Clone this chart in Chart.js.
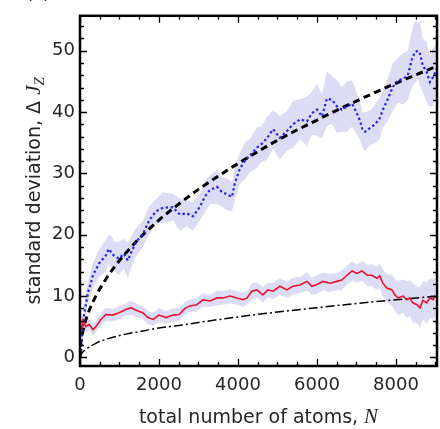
<!DOCTYPE html>
<html>
<head>
<meta charset="utf-8">
<script src="https://cdn.jsdelivr.net/npm/chart.js@4/dist/chart.umd.min.js"></script>
<style>
  html, body { margin: 0; padding: 0; background: #fff; }
  #wrap { width: 440px; height: 429px; position: relative; }
</style>
</head>
<body>
<div id="wrap"><canvas id="c"></canvas></div>
<script>
// Axis tick labels
const xTicks = [0, 2000, 4000, 6000, 8000];
const yTicks = [0, 10, 20, 30, 40, 50];

// Measured standard deviation, blue data (with uncertainty half-width)
const blueN = [0, 25, 60, 100, 200, 330, 480, 650, 730, 800, 860, 990, 1110, 1210, 1300,
  1420, 1590, 1750, 1920, 2100, 2350, 2530, 2700, 2860, 3040, 3160, 3290, 3470, 3590, 3750,
  3850, 3920, 4050, 4180, 4300, 4480, 4600, 4730, 4890, 5060, 5240, 5390, 5570, 5750, 5870,
  6000, 6130, 6250, 6380, 6510, 6630, 6760, 6890, 7010, 7090, 7160, 7220, 7340, 7470, 7590,
  7670, 7800, 7920, 8050, 8180, 8300, 8400, 8480, 8560, 8610, 8680, 8780, 8860, 8940, 9030];
const blueVal = [0.2, 0.6, 4.0, 6.9, 10.5, 13.4, 15.3, 16.6, 17.7, 17.0, 16.6, 16.1, 16.9, 15.8, 17.2,
  18.8, 20.1, 22.3, 23.8, 24.4, 24.5, 23.3, 23.5, 23.0, 24.6, 26.2, 27.3, 27.8, 27.0, 26.5,
  26.2, 28.4, 30.8, 32.1, 32.9, 34.2, 34.8, 35.7, 37.2, 35.8, 36.9, 38.0, 38.8, 38.5, 39.8,
  40.4, 39.3, 42.2, 42.0, 40.9, 40.4, 40.9, 41.4, 39.8, 38.6, 37.0, 36.8, 37.4, 38.0, 39.0,
  40.4, 42.2, 44.1, 45.2, 45.4, 46.0, 48.5, 49.8, 50.0, 49.5, 47.6, 46.5, 44.9, 45.7, 47.0];
const blueSpread = [0.6, 0.9, 1.4, 1.6, 1.8, 2.0, 2.2, 2.6, 2.4, 2.8, 2.3, 2.7, 2.4, 2.9, 2.5,
  2.3, 2.1, 2.4, 2.0, 2.5, 2.2, 2.6, 2.1, 2.4, 2.2, 2.6, 2.3, 2.8, 2.4, 2.6,
  2.3, 2.7, 2.5, 3.0, 2.7, 3.3, 2.9, 3.5, 3.1, 3.6, 3.2, 3.8, 3.3, 4.0, 3.5,
  4.2, 3.6, 4.5, 3.9, 4.3, 3.6, 4.1, 3.8, 3.4, 3.1, 2.9, 3.2, 2.8, 3.1, 3.4,
  3.0, 3.5, 3.9, 3.6, 4.2, 4.0, 4.6, 5.0, 4.6, 5.2, 4.4, 4.9, 4.1, 4.7, 4.3];

// Measured standard deviation, red data (with uncertainty half-width)
const redN = [0, 25, 75, 150, 230, 330, 400, 530, 650, 830, 990, 1160, 1290, 1420, 1590,
  1720, 1850, 2000, 2180, 2350, 2510, 2660, 2780, 2960, 3110, 3290, 3470, 3620, 3800, 3970,
  4130, 4230, 4350, 4480, 4630, 4760, 4890, 5060, 5240, 5390, 5570, 5750, 5870, 6000, 6150,
  6330, 6510, 6630, 6760, 6890, 7010, 7140, 7270, 7390, 7520, 7590, 7670, 7770, 7900, 7970,
  8050, 8180, 8280, 8350, 8430, 8530, 8610, 8680, 8780, 8860, 8940, 8990];
const redVal = [3.8, 3.9, 6.1, 5.0, 5.4, 4.5, 5.0, 6.2, 7.0, 6.9, 7.3, 7.8, 8.1, 7.7, 7.3,
  6.5, 6.2, 6.9, 6.5, 6.9, 7.0, 8.0, 8.4, 8.6, 9.4, 9.2, 9.7, 9.7, 10.0, 9.7,
  9.4, 9.7, 10.8, 11.0, 10.2, 11.0, 10.8, 11.6, 11.0, 11.6, 11.8, 12.4, 11.6, 11.9, 12.4,
  12.1, 12.4, 12.6, 13.4, 14.1, 13.7, 14.1, 13.4, 13.4, 12.9, 13.3, 12.1, 11.3, 11.0, 10.2,
  9.7, 10.0, 9.4, 9.7, 8.9, 8.6, 8.1, 9.3, 8.9, 9.7, 9.4, 9.9];
const redSpread = [0.5, 0.8, 1.0, 1.0, 0.9, 1.0, 0.9, 1.0, 1.1, 1.0, 1.1, 1.0, 1.2, 1.1, 1.0,
  1.1, 1.0, 1.1, 1.0, 1.1, 1.0, 1.1, 1.0, 1.1, 1.1, 1.0, 1.2, 1.1, 1.2, 1.1,
  1.2, 1.1, 1.3, 1.2, 1.3, 1.2, 1.3, 1.4, 1.3, 1.4, 1.3, 1.5, 1.4, 1.5, 1.4,
  1.5, 1.4, 1.6, 1.5, 1.6, 1.5, 1.6, 1.7, 1.8, 1.9, 2.0, 2.2, 2.3, 2.5, 2.6,
  2.8, 2.7, 3.0, 2.9, 3.2, 3.0, 3.3, 3.1, 3.4, 3.2, 3.3, 3.1];

// Reference curves (black dashed and dash-dotted)
const dashN = [0, 10, 50, 100, 200, 400, 700, 1000, 1500, 2000, 2500, 3000, 4000, 5000, 6000, 7000, 8000, 9040];
const dashVal = [0, 1.6, 3.5, 5.0, 7.1, 10.0, 13.2, 15.8, 19.4, 22.4, 25.0, 27.4, 31.6, 35.4, 38.7, 41.8, 44.7, 47.5];
const dotDashN = [0, 50, 150, 400, 730, 1160, 1590, 2000, 2500, 3000, 4000, 5000, 6000, 7000, 8000, 9040];
const dotDashVal = [0, 0.7, 1.3, 2.3, 3.1, 3.8, 4.3, 4.8, 5.2, 5.7, 6.6, 7.4, 8.1, 8.8, 9.4, 10.0];

const pts = (xs, ys) => xs.map((x, i) => ({ x: x, y: ys[i] }));
const lo = (xs, ys, sp) => xs.map((x, i) => ({ x: x, y: ys[i] - sp[i] }));
const hi = (xs, ys, sp) => xs.map((x, i) => ({ x: x, y: ys[i] + sp[i] }));

const BAND = 'rgb(220,220,244)';
const TICK_FONT = { family: 'DejaVu Sans', size: 18 };
const TEXT = '#262626';

// Inward tick marks on all four sides plus the frame
const framePlugin = {
  id: 'frame',
  afterDraw(chart) {
    const { ctx, chartArea: a, scales } = chart;
    const xs = scales.x, ys = scales.y;
    ctx.save();
    ctx.strokeStyle = '#000';
    ctx.lineWidth = 1.3;
    ctx.beginPath();
    for (let v = 0; v <= 9000; v += 500) {
      const p = Math.round(xs.getPixelForValue(v)) + 0.5;
      const len = v % 2000 === 0 ? 7 : 4;
      ctx.moveTo(p, a.bottom); ctx.lineTo(p, a.bottom - len);
      ctx.moveTo(p, a.top); ctx.lineTo(p, a.top + len);
    }
    for (let v = 0; v <= 54; v += 2) {
      const p = Math.round(ys.getPixelForValue(v)) + 0.5;
      const len = v % 10 === 0 ? 7 : 4;
      ctx.moveTo(a.left, p); ctx.lineTo(a.left + len, p);
      ctx.moveTo(a.right, p); ctx.lineTo(a.right - len, p);
    }
    ctx.stroke();
    ctx.lineWidth = 2.5;
    ctx.strokeRect(a.left, a.top, a.right - a.left, a.bottom - a.top);
    ctx.restore();
  }
};

// Axis titles with mixed upright / italic pieces
function drawParts(ctx, parts, cx, baseY) {
  let w = 0;
  parts.forEach(p => { ctx.font = p.font; p.w = ctx.measureText(p.t).width; w += p.w; });
  let x = cx - w / 2;
  parts.forEach(p => {
    ctx.font = p.font;
    ctx.fillText(p.t, x, baseY + (p.dy || 0));
    x += p.w;
  });
}
const titlePlugin = {
  id: 'titles',
  afterDraw(chart) {
    const { ctx, chartArea: a } = chart;
    ctx.save();
    ctx.fillStyle = TEXT;
    ctx.textBaseline = 'alphabetic';
    ctx.textAlign = 'left';
    drawParts(ctx, [
      { t: 'total number of atoms, ', font: '19px "DejaVu Sans"' },
      { t: 'N', font: 'italic 21px "Liberation Serif"' }
    ], (a.left + a.right) / 2, 423);
    ctx.translate(40, (a.top + a.bottom) / 2);
    ctx.rotate(-Math.PI / 2);
    drawParts(ctx, [
      { t: 'standard deviation, \u0394 ', font: '19px "DejaVu Sans"' },
      { t: 'J', font: 'italic 21px "Liberation Serif"' },
      { t: 'Z', font: 'italic 15px "Liberation Serif"', dy: 4 }
    ], 0, 0);
    ctx.restore();
    ctx.save();
    ctx.fillStyle = TEXT;
    ctx.font = '18px "DejaVu Sans"';
    ctx.fillText('(c)', 26, -1);
    ctx.restore();
  }
};

new Chart(document.getElementById('c'), {
  type: 'line',
  data: {
    datasets: [
      { data: pts(redN, redVal), borderColor: '#e8142c', borderWidth: 1.6, pointRadius: 0, tension: 0, fill: false },
      { data: pts(blueN, blueVal), borderColor: '#2424e8', borderWidth: 2.2, borderDash: [2.4, 2.6], pointRadius: 0, tension: 0, fill: false },
      { data: pts(dashN, dashVal), borderColor: '#000', borderWidth: 3, borderDash: [7, 4.5], pointRadius: 0, cubicInterpolationMode: 'monotone', fill: false },
      { data: pts(dotDashN, dotDashVal), borderColor: '#000', borderWidth: 1.5, borderDash: [9, 3, 2, 3], pointRadius: 0, cubicInterpolationMode: 'monotone', fill: false },
      { data: lo(redN, redVal, redSpread), borderWidth: 0, borderColor: BAND, pointRadius: 0, tension: 0, fill: false },
      { data: hi(redN, redVal, redSpread), borderWidth: 0, borderColor: BAND, backgroundColor: BAND, pointRadius: 0, tension: 0, fill: '-1' },
      { data: lo(blueN, blueVal, blueSpread), borderWidth: 0, borderColor: BAND, pointRadius: 0, tension: 0, fill: false },
      { data: hi(blueN, blueVal, blueSpread), borderWidth: 0, borderColor: BAND, backgroundColor: BAND, pointRadius: 0, tension: 0, fill: '-1' }
    ]
  },
  options: {
    responsive: true,
    maintainAspectRatio: false,
    animation: false,
    events: [],
    layout: { padding: { left: 0, top: 7, right: 3, bottom: 0 } },
    plugins: { legend: { display: false }, tooltip: { enabled: false } },
    scales: {
      x: {
        type: 'linear', min: 0, max: 9040,
        afterBuildTicks: s => { s.ticks = xTicks.map(v => ({ value: v })); },
        afterFit: s => { s.height = 63; },
        grid: { display: false, drawTicks: false },
        border: { display: false },
        ticks: { font: TICK_FONT, color: TEXT, padding: 9, maxRotation: 0, autoSkip: false, callback: v => String(v) }
      },
      y: {
        type: 'linear', min: -1.4, max: 55.7,
        afterBuildTicks: s => { s.ticks = yTicks.map(v => ({ value: v })); },
        afterFit: s => { s.width = 80; },
        grid: { display: false, drawTicks: false },
        border: { display: false },
        ticks: { font: TICK_FONT, color: TEXT, padding: 5, autoSkip: false, callback: v => String(v) }
      }
    }
  },
  plugins: [framePlugin, titlePlugin]
});
</script>
</body>
</html>
